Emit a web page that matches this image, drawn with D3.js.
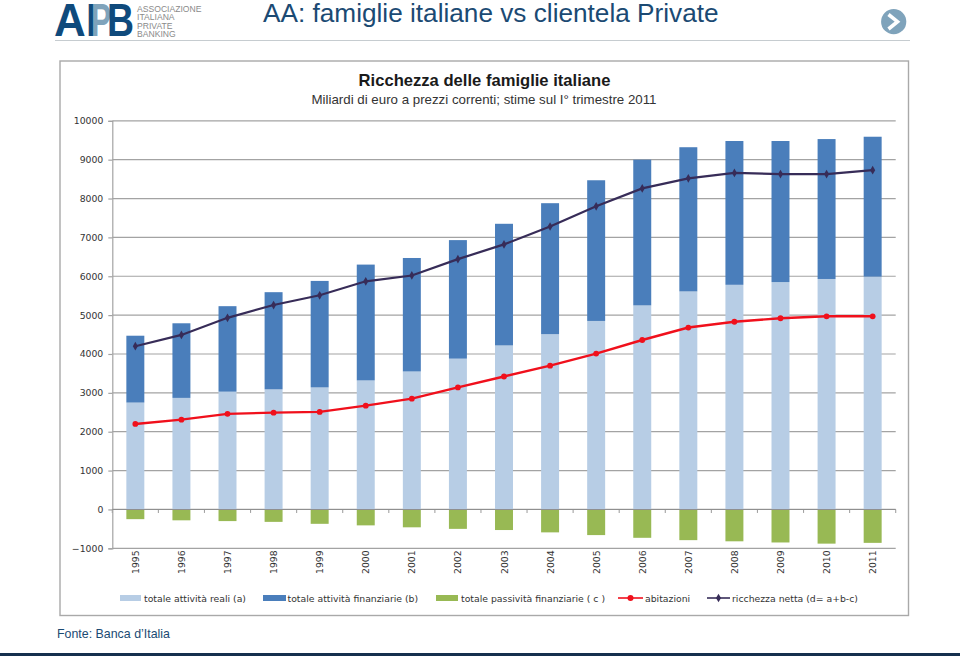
<!DOCTYPE html>
<html><head><meta charset="utf-8">
<script src="https://cdn.jsdelivr.net/npm/d3@7/dist/d3.min.js"></script>
<style>html,body{margin:0;padding:0;background:#fff}svg{display:block}</style></head>
<body><svg id="c" width="960" height="656"></svg>
<script>
const years=["1995","1996","1997","1998","1999","2000","2001","2002","2003","2004","2005","2006","2007","2008","2009","2010","2011"];
const attivitaReali=[2750,2870,3030,3090,3140,3320,3550,3880,4220,4510,4850,5250,5610,5780,5850,5930,5990];
const attivitaFinanziarie=[1720,1920,2200,2500,2740,2980,2920,3050,3130,3370,3620,3750,3710,3700,3630,3600,3600];
const passivita=[-250,-280,-300,-320,-370,-410,-460,-500,-530,-590,-660,-730,-790,-820,-850,-880,-860];
const abitazioni=[2200,2310,2460,2490,2510,2670,2850,3140,3420,3700,4010,4360,4680,4830,4920,4970,4970];
const ricchezzaNetta=[4200,4490,4930,5260,5510,5870,6020,6440,6820,7280,7800,8260,8520,8660,8630,8630,8730];
const yTicks=[-1000,0,1000,2000,3000,4000,5000,6000,7000,8000,9000,10000];
const legendLabels=["totale attività reali (a)","totale attività finanziarie (b)","totale passività finanziarie ( c )","abitazioni","ricchezza netta (d= a+b-c)"];
const colors={real:"#b7cde5",fin:"#4a7ebb",pass:"#98b954",abit:"#f0101c",net:"#372c58",grid:"#a3a3a3",navy:"#1b4a73"};

const svg=d3.select("#c");
const sans="'Liberation Sans',Arial,sans-serif", ver="'DejaVu Sans',Verdana,sans-serif";

// header
svg.append("text").attr("x",263).attr("y",22).attr("font-family",sans).attr("font-size",26.2).attr("fill",colors.navy).text("AA: famiglie italiane vs clientela Private");
svg.append("line").attr("x1",55).attr("x2",910).attr("y1",40.5).attr("y2",40.5).attr("stroke","#c6ccd0").attr("stroke-width",1.2);
// logo
const logo=svg.append("g").attr("font-family",sans).attr("font-weight",700);
logo.append("text").attr("x",54).attr("y",36).attr("font-size",46).attr("textLength",44).attr("lengthAdjust","spacingAndGlyphs").attr("fill","#0f4a7c").text("AI");
logo.append("text").attr("x",91).attr("y",36).attr("font-size",46).attr("textLength",20).attr("lengthAdjust","spacingAndGlyphs").attr("fill","#7fa3bb").text("P");
logo.append("text").attr("x",107).attr("y",36).attr("font-size",46).attr("textLength",27).attr("lengthAdjust","spacingAndGlyphs").attr("fill","#0f4a7c").text("B");
["ASSOCIAZIONE","ITALIANA","PRIVATE","BANKING"].forEach((t,i)=>{
  svg.append("text").attr("x",137).attr("y",11.5+i*8.6).attr("font-family",sans).attr("font-size",8.6).attr("fill","#8a8a8a").text(t);
});
// arrow
svg.append("circle").attr("cx",893.7).attr("cy",21.7).attr("r",12.6).attr("fill","#7fa3bb");
svg.append("path").attr("d","M888.5 14.5 L897.5 21.7 L888.5 29").attr("fill","none").attr("stroke","#fff").attr("stroke-width",3.6);

// chart frame
svg.append("rect").attr("x",60).attr("y",61).attr("width",848.5).attr("height",554.5).attr("fill","#fff").attr("stroke","#a9a9a9").attr("stroke-width",1.4);
svg.append("text").attr("x",484.5).attr("y",86).attr("text-anchor","middle").attr("font-family",sans).attr("font-weight",700).attr("font-size",16.6).attr("fill","#1a1a1a").text("Ricchezza delle famiglie italiane");
svg.append("text").attr("x",484).attr("y",103.5).attr("text-anchor","middle").attr("font-family",sans).attr("font-size",13.3).attr("fill","#333").text("Miliardi di euro a prezzi correnti; stime sul I° trimestre 2011");

const x=d3.scaleBand().domain(years).range([112.3,895.7]).paddingInner(0.61).paddingOuter(0.305);
const y=d3.scaleLinear().domain([-1000,10000]).range([548.3,120.8]);
const cx=d=>x(d)+x.bandwidth()/2;

// gridlines
svg.append("g").selectAll("line").data(yTicks).join("line")
  .attr("x1",112.3).attr("x2",895.7).attr("y1",d=>y(d)).attr("y2",d=>y(d))
  .attr("stroke",colors.grid).attr("stroke-width",1.2);

// axes
const gy=svg.append("g").attr("transform","translate(112.3,0)").call(d3.axisLeft(y).tickValues(yTicks).tickFormat(d3.format("d")).tickSize(4).tickPadding(5));
gy.selectAll("path,line").attr("stroke",colors.grid).attr("stroke-width",1.2);
gy.selectAll("text").attr("font-family",ver).attr("font-size",9.3).attr("fill","#333");

// bars
const bw=x.bandwidth();
svg.append("g").selectAll("rect").data(years).join("rect").attr("x",d=>x(d)).attr("width",bw)
  .attr("y",(d,i)=>y(attivitaReali[i])).attr("height",(d,i)=>y(0)-y(attivitaReali[i])).attr("fill",colors.real);
svg.append("g").selectAll("rect").data(years).join("rect").attr("x",d=>x(d)).attr("width",bw)
  .attr("y",(d,i)=>y(attivitaReali[i]+attivitaFinanziarie[i])).attr("height",(d,i)=>y(attivitaReali[i])-y(attivitaReali[i]+attivitaFinanziarie[i])).attr("fill",colors.fin);
svg.append("g").selectAll("rect").data(years).join("rect").attr("x",d=>x(d)).attr("width",bw)
  .attr("y",y(0)).attr("height",(d,i)=>y(passivita[i])-y(0)).attr("fill",colors.pass);

// x axis at zero, ticks between categories, labels at bottom
const edges=years.map(d=>x(d)-x.step()*0.305).concat([895.7]);
svg.append("g").selectAll("line").data(edges).join("line")
  .attr("x1",d=>d).attr("x2",d=>d).attr("y1",y(0)).attr("y2",y(0)+3.5).attr("stroke",colors.grid).attr("stroke-width",1.1);
svg.append("line").attr("x1",112.3).attr("x2",895.7).attr("y1",y(0)).attr("y2",y(0)).attr("stroke","#8f8f8f").attr("stroke-width",1.1);
svg.append("g").selectAll("text").data(years).join("text")
  .attr("transform",d=>`translate(${cx(d)+3.5},574) rotate(-90)`)
  .attr("font-family",ver).attr("font-size",9.3).attr("fill","#333").text(d=>d);

// lines
const line=d3.line().x((d,i)=>cx(years[i])).y(d=>y(d));
svg.append("path").datum(abitazioni).attr("d",line).attr("fill","none").attr("stroke",colors.abit).attr("stroke-width",2.4);
svg.append("g").selectAll("circle").data(abitazioni).join("circle").attr("cx",(d,i)=>cx(years[i])).attr("cy",d=>y(d)).attr("r",2.9).attr("fill",colors.abit);
svg.append("path").datum(ricchezzaNetta).attr("d",line).attr("fill","none").attr("stroke",colors.net).attr("stroke-width",2.2);
const diamond=d3.symbol().type(d3.symbolDiamond).size(22);
svg.append("g").selectAll("path").data(ricchezzaNetta).join("path").attr("d",diamond).attr("transform",(d,i)=>`translate(${cx(years[i])},${y(d)})`).attr("fill",colors.net);

// legend
const leg=svg.append("g");
const swatches=[[120,141,144,colors.real],[263,286,287.5,colors.fin],[436,458,461,colors.pass]];
swatches.forEach((s,i)=>{
  leg.append("rect").attr("x",s[0]).attr("y",595).attr("width",s[1]-s[0]).attr("height",6).attr("fill",s[3]);
  leg.append("text").attr("x",s[2]).attr("y",601.5).attr("font-family",ver).attr("font-size",9.3).attr("fill","#333").text(legendLabels[i]);
});
leg.append("line").attr("x1",618).attr("x2",643).attr("y1",598).attr("y2",598).attr("stroke",colors.abit).attr("stroke-width",1.6);
leg.append("circle").attr("cx",630.5).attr("cy",598).attr("r",3).attr("fill",colors.abit);
leg.append("text").attr("x",645).attr("y",601.5).attr("font-family",ver).attr("font-size",9.3).attr("fill","#333").text(legendLabels[3]);
leg.append("line").attr("x1",707).attr("x2",730).attr("y1",598).attr("y2",598).attr("stroke",colors.net).attr("stroke-width",1.6);
leg.append("path").attr("d",diamond).attr("transform","translate(718.5,598)").attr("fill",colors.net);
leg.append("text").attr("x",732).attr("y",601.5).attr("font-family",ver).attr("font-size",9.3).attr("fill","#333").text(legendLabels[4]);

// footer
svg.append("text").attr("x",57).attr("y",638).attr("font-family",sans).attr("font-size",12.4).attr("fill",colors.navy).text("Fonte: Banca d’Italia");
svg.append("rect").attr("x",0).attr("y",653).attr("width",960).attr("height",3).attr("fill","#16304e");
</script></body></html>
